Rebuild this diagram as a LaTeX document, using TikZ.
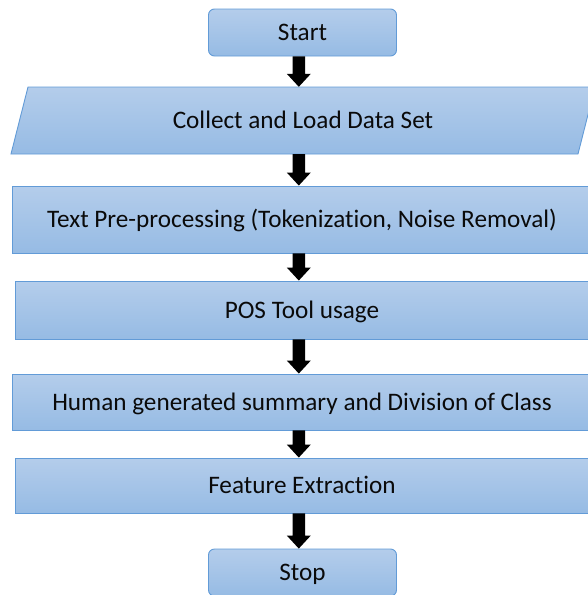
\documentclass[tikz,border=0pt]{standalone}
\usepackage{fontspec}
\setmainfont{Carlito}[Ligatures={NoCommon}]
\usetikzlibrary{calc}

\definecolor{fillTop}{RGB}{180,205,235}
\definecolor{fillBot}{RGB}{150,187,228}
\definecolor{edge}{RGB}{98,155,215}
\definecolor{ink}{RGB}{10,10,10}

\tikzset{
  txt/.style={inner sep=0pt, text=ink, font=\fontsize{25.2}{30}\selectfont,
    text height=18pt, text depth=2pt},
  stepbox/.style={txt, draw=edge, line width=0.9pt, top color=fillTop, bottom color=fillBot},
  terminal/.style={stepbox, rounded corners=6pt, minimum width=188pt, minimum height=47pt},
  blockarrow/.style={fill=black, draw=none, to path={
    let \p1=(\tikztostart), \p2=(\tikztotarget) in
    (\x1-6.25pt,\y1) -- (\x1-6.25pt,\y2+13pt) -- (\x1-12pt,\y2+13pt) -- (\x1,\y2)
    -- (\x1+12pt,\y2+13pt) -- (\x1+6.25pt,\y2+13pt) -- (\x1+6.25pt,\y1) -- cycle}}
}

\begin{document}
\begin{tikzpicture}[x=1pt,y=-1pt]
\useasboundingbox (0,0) rectangle (587,595);

% start / stop terminals
\node[terminal] (start) at (302.5,32.5) {Start};
\node[terminal] (stop) at (302.5,572.5) {Stop};

% input parallelogram
\path[draw=edge, line width=0.9pt, top color=fillTop, bottom color=fillBot]
  (28,87) -- (595,87) -- (578,154) -- (11,154) -- cycle;
\node[txt, minimum width=567pt, minimum height=67pt] (load) at (303,120.5) {Collect and Load Data Set};

% process steps
\node[stepbox, minimum width=580pt, minimum height=67pt] (pre) at (302,219.5)
  {Text Pre-processing (Tokenization, Noise Removal)};
\node[stepbox, minimum width=574pt, minimum height=58pt] (pos) at (302,310)
  {POS Tool usage};
\node[stepbox, minimum width=580pt, minimum height=56pt] (human) at (302,402)
  {Human generated summary and Division of Class};
\node[stepbox, minimum width=574pt, minimum height=55pt] (feat) at (302,485.5)
  {Feature Extraction};

% flow arrows
\path[blockarrow] ([xshift=-3.7pt]start.south) to ([xshift=-3.7pt]start.south |- load.north);
\path[blockarrow] ([xshift=-4.2pt]load.south) to ([xshift=-4.2pt]load.south |- pre.north);
\path[blockarrow] ([xshift=-3.2pt]pre.south) to ([xshift=-3.2pt]pre.south |- pos.north);
\path[blockarrow] ([xshift=-3.2pt]pos.south) to ([xshift=-3.2pt]pos.south |- human.north);
\path[blockarrow] ([xshift=-3.2pt]human.south) to ([xshift=-3.2pt]human.south |- feat.north);
\path[blockarrow] ([xshift=-3.2pt]feat.south) to ([xshift=-3.7pt]stop.north);
\end{tikzpicture}
\end{document}
